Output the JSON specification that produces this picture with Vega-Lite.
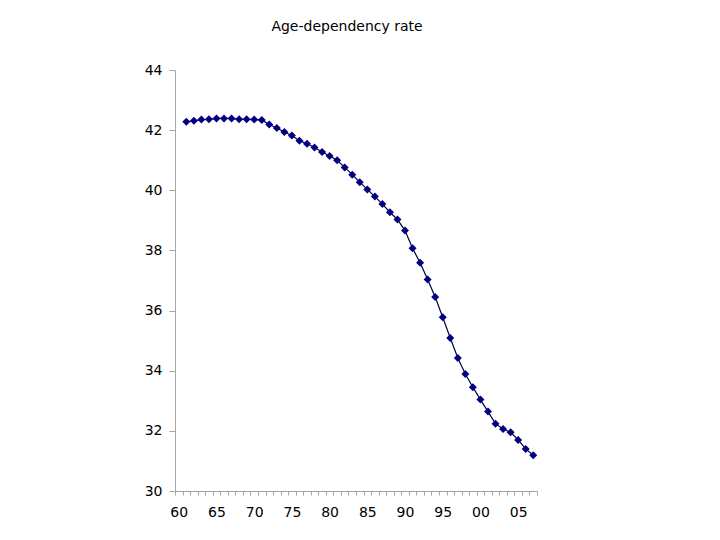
{
  "$schema": "https://vega.github.io/schema/vega-lite/v6.json",
  "autosize": {"type": "none"},
  "padding": {"left": 175, "top": 70, "right": 183, "bottom": 49},
  "width": 362,
  "height": 421,
  "background": "white",
  "title": {
    "text": "Age-dependency rate",
    "font": "DejaVu Sans",
    "fontSize": 14,
    "fontWeight": "normal",
    "color": "black",
    "anchor": "middle",
    "frame": "group",
    "offset": 29,
    "dx": -9
  },
  "config": {
    "view": {"stroke": null},
    "axis": {
      "labelFont": "DejaVu Sans",
      "labelFontSize": 14,
      "labelColor": "black",
      "domainColor": "#a6a6a6",
      "tickColor": "#a6a6a6",
      "grid": false,
      "title": null
    }
  },
  "data": {
    "values": [
      {"year": 1961, "value": 42.28},
      {"year": 1962, "value": 42.31},
      {"year": 1963, "value": 42.35},
      {"year": 1964, "value": 42.36},
      {"year": 1965, "value": 42.39},
      {"year": 1966, "value": 42.39},
      {"year": 1967, "value": 42.39},
      {"year": 1968, "value": 42.36},
      {"year": 1969, "value": 42.36},
      {"year": 1970, "value": 42.35},
      {"year": 1971, "value": 42.34},
      {"year": 1972, "value": 42.19},
      {"year": 1973, "value": 42.07},
      {"year": 1974, "value": 41.94},
      {"year": 1975, "value": 41.82},
      {"year": 1976, "value": 41.65},
      {"year": 1977, "value": 41.55},
      {"year": 1978, "value": 41.42},
      {"year": 1979, "value": 41.27},
      {"year": 1980, "value": 41.14},
      {"year": 1981, "value": 41.0},
      {"year": 1982, "value": 40.76},
      {"year": 1983, "value": 40.52},
      {"year": 1984, "value": 40.27},
      {"year": 1985, "value": 40.03},
      {"year": 1986, "value": 39.79},
      {"year": 1987, "value": 39.54},
      {"year": 1988, "value": 39.27},
      {"year": 1989, "value": 39.03},
      {"year": 1990, "value": 38.66},
      {"year": 1991, "value": 38.07},
      {"year": 1992, "value": 37.59},
      {"year": 1993, "value": 37.03},
      {"year": 1994, "value": 36.45},
      {"year": 1995, "value": 35.78},
      {"year": 1996, "value": 35.09},
      {"year": 1997, "value": 34.42},
      {"year": 1998, "value": 33.89},
      {"year": 1999, "value": 33.45},
      {"year": 2000, "value": 33.04},
      {"year": 2001, "value": 32.64},
      {"year": 2002, "value": 32.24},
      {"year": 2003, "value": 32.06},
      {"year": 2004, "value": 31.95},
      {"year": 2005, "value": 31.7},
      {"year": 2006, "value": 31.4},
      {"year": 2007, "value": 31.19}
    ]
  },
  "encoding": {
    "x": {
      "field": "year",
      "type": "quantitative",
      "scale": {"domain": [1959.5, 2007.5], "nice": false, "zero": false},
      "axis": {
        "values": [1959.5, 1960.5, 1961.5, 1962.5, 1963.5, 1964.5, 1965.5, 1966.5, 1967.5, 1968.5, 1969.5, 1970.5, 1971.5, 1972.5, 1973.5, 1974.5, 1975.5, 1976.5, 1977.5, 1978.5, 1979.5, 1980.5, 1981.5, 1982.5, 1983.5, 1984.5, 1985.5, 1986.5, 1987.5, 1988.5, 1989.5, 1990.5, 1991.5, 1992.5, 1993.5, 1994.5, 1995.5, 1996.5, 1997.5, 1998.5, 1999.5, 2000.5, 2001.5, 2002.5, 2003.5, 2004.5, 2005.5, 2006.5, 2007.5],
        "labelExpr": "(datum.value + 0.5) % 5 == 0 ? format((datum.value + 0.5) % 100, '02d') : ''",
        "labelOffset": 3.77,
        "labelOverlap": false,
        "labelFlush": false,
        "labelBound": false,
        "tickSize": 4,
        "labelPadding": 10
      }
    },
    "y": {
      "field": "value",
      "type": "quantitative",
      "scale": {"domain": [30, 44], "nice": false, "zero": false},
      "axis": {
        "values": [30, 32, 34, 36, 38, 40, 42, 44],
        "tickSize": 6,
        "labelPadding": 7,
        "labelFlush": false,
        "labelBound": false
      }
    }
  },
  "layer": [
    {"mark": {"type": "line", "color": "#000040", "strokeWidth": 1.2}},
    {"mark": {"type": "point", "shape": "diamond", "filled": true, "size": 64, "color": "#000080", "opacity": 1}}
  ]
}
